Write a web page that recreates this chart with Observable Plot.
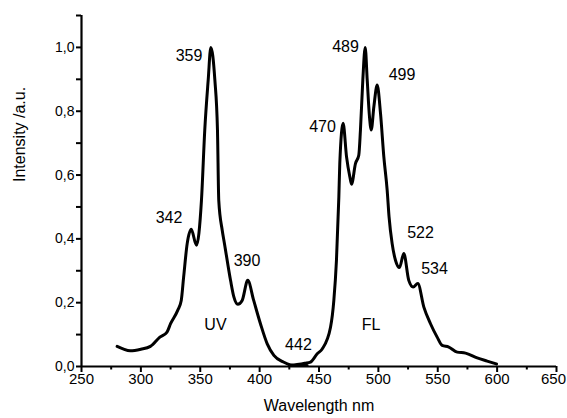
<!DOCTYPE html>
<html>
<head>
<meta charset="utf-8">
<script src="https://cdn.jsdelivr.net/npm/d3@7"></script>
<script src="https://cdn.jsdelivr.net/npm/@observablehq/plot@0.6"></script>
<style>
  html, body { margin: 0; padding: 0; background: #fff; }
  svg { display: block; }
</style>
</head>
<body>
<div id="chart"></div>
<script>
// UV (excitation) spectrum
const uvWavelength = [280, 285, 291, 300, 308, 316, 322, 325, 331, 334, 336, 339, 342.4, 346.8, 351, 353.8, 356.7, 358.9, 362.3, 364.5, 365.6, 368.5, 370.4, 375.5, 378.3, 381.6, 385.3, 390, 395, 400.7, 406.4, 412, 420, 426, 432, 440];
const uvIntensity  = [0.063, 0.055, 0.049, 0.054, 0.063, 0.092, 0.108, 0.134, 0.176, 0.207, 0.28, 0.385, 0.43, 0.38, 0.52, 0.741, 0.898, 1.0, 0.898, 0.741, 0.52, 0.427, 0.385, 0.27, 0.218, 0.195, 0.207, 0.27, 0.207, 0.134, 0.071, 0.035, 0.014, 0.005, 0.003, 0.003];

// FL (emission) spectrum
const flWavelength = [425, 431.6, 438, 442.8, 448.5, 452.7, 459.7, 462.5, 464.7, 466.7, 467.5, 470.3, 473.2, 476, 477.4, 480.7, 483.5, 484.9, 486.9, 488.9, 490.6, 492.5, 494, 496.2, 499, 501.8, 504.6, 507.4, 509, 511.6, 514.4, 517.8, 521.4, 525.6, 529.3, 533.2, 538.3, 543.9, 549.5, 553.7, 559.3, 566.4, 573.4, 583.2, 591.6, 599.5];
const flIntensity  = [0.003, 0.006, 0.010, 0.014, 0.04, 0.055, 0.123, 0.207, 0.333, 0.53, 0.636, 0.762, 0.657, 0.594, 0.571, 0.636, 0.662, 0.741, 0.898, 1.0, 0.898, 0.783, 0.741, 0.814, 0.882, 0.793, 0.657, 0.553, 0.469, 0.385, 0.333, 0.31, 0.354, 0.27, 0.249, 0.26, 0.186, 0.134, 0.092, 0.066, 0.061, 0.045, 0.042, 0.027, 0.017, 0.008];

// Peak / band annotations (text, wavelength, intensity at label centre)
const labelText = ["359", "342", "390", "UV", "442", "FL", "470", "489", "499", "522", "534"];
const labelX    = [340.5, 323.7, 389.4, 362.8, 432.7, 493.8, 453, 472.3, 519.9, 535.5, 547.3];
const labelY    = [0.972, 0.465, 0.33, 0.13, 0.0675, 0.129, 0.75, 1.0025, 0.915, 0.418, 0.306];

// Axes
const xTicks = [250, 300, 350, 400, 450, 500, 550, 600, 650];
const xTickLabels = ["250", "300", "350", "400", "450", "500", "550", "600", "650"];
const xMinorTicks = [275, 325, 375, 425, 475, 525, 575, 625];
const yTicks = [0, 0.2, 0.4, 0.6, 0.8, 1.0];
const yTickLabels = ["0,0", "0,2", "0,4", "0,6", "0,8", "1,0"];
const yMinorTicks = [0.1, 0.3, 0.5, 0.7, 0.9, 1.1];
const xLabel = "Wavelength nm";
const yLabel = "Intensity /a.u.";

const spectra = [
  ...uvWavelength.map((w, i) => ({band: "UV", w, v: uvIntensity[i]})),
  ...flWavelength.map((w, i) => ({band: "FL", w, v: flIntensity[i]}))
];
const labels = labelText.map((t, i) => ({t, x: labelX[i], y: labelY[i]}));
const xTickData = xTicks.map((v, i) => ({v, t: xTickLabels[i]}));
const yTickData = yTicks.map((v, i) => ({v, t: yTickLabels[i]}));
const xTickInner = xTickData.slice(0, -1);
const xTickLast = xTickData.slice(-1);

const font = "'Liberation Sans', Arial, Helvetica, sans-serif";

const chart = Plot.plot({
  width: 567,
  height: 418,
  marginLeft: 81,
  marginRight: 11,
  marginTop: 15,
  marginBottom: 52,
  style: {fontFamily: font, background: "#fff", color: "#000"},
  x: {domain: [250, 650]},
  y: {domain: [0, 1.1]},
  marks: [
    Plot.axisX({ticks: xTicks, tickSize: 6, strokeWidth: 2, text: null, label: null}),
    Plot.axisX({ticks: xMinorTicks, tickSize: 3.5, strokeWidth: 2, text: null, label: null}),
    Plot.axisY({ticks: yTicks, tickSize: 5, strokeWidth: 2, text: null, label: null}),
    Plot.axisY({ticks: yMinorTicks, tickSize: 5, strokeWidth: 2, text: null, label: null}),
    Plot.text(xTickInner, {x: "v", text: "t", frameAnchor: "bottom", dy: 17, fontSize: 15, fill: "#000"}),
    Plot.text(xTickLast, {x: "v", text: "t", frameAnchor: "bottom", dy: 17, dx: -3, fontSize: 15, fill: "#000"}),
    Plot.text(yTickData, {y: "v", text: "t", frameAnchor: "left", textAnchor: "end", dx: -7, fontSize: 14, fill: "#000"}),
    Plot.ruleY([0], {x1: 250, x2: 650, strokeWidth: 2.2}),
    Plot.ruleX([250], {y1: 0, y2: 1.1, strokeWidth: 2.2}),
    Plot.line(spectra, {x: "w", y: "v", z: "band", curve: "monotone-x", stroke: "#000", strokeWidth: 3, strokeLinejoin: "round"}),
    Plot.text(labels, {x: "x", y: "y", text: "t", fontSize: 16, fill: "#000"}),
    Plot.text([xLabel], {frameAnchor: "bottom", dy: 44, fontSize: 16, fill: "#000"}),
    Plot.text([yLabel], {frameAnchor: "left", rotate: -90, dx: -62, dy: -9, fontSize: 16, fill: "#000"})
  ]
});
document.getElementById("chart").appendChild(chart);
</script>
</body>
</html>
